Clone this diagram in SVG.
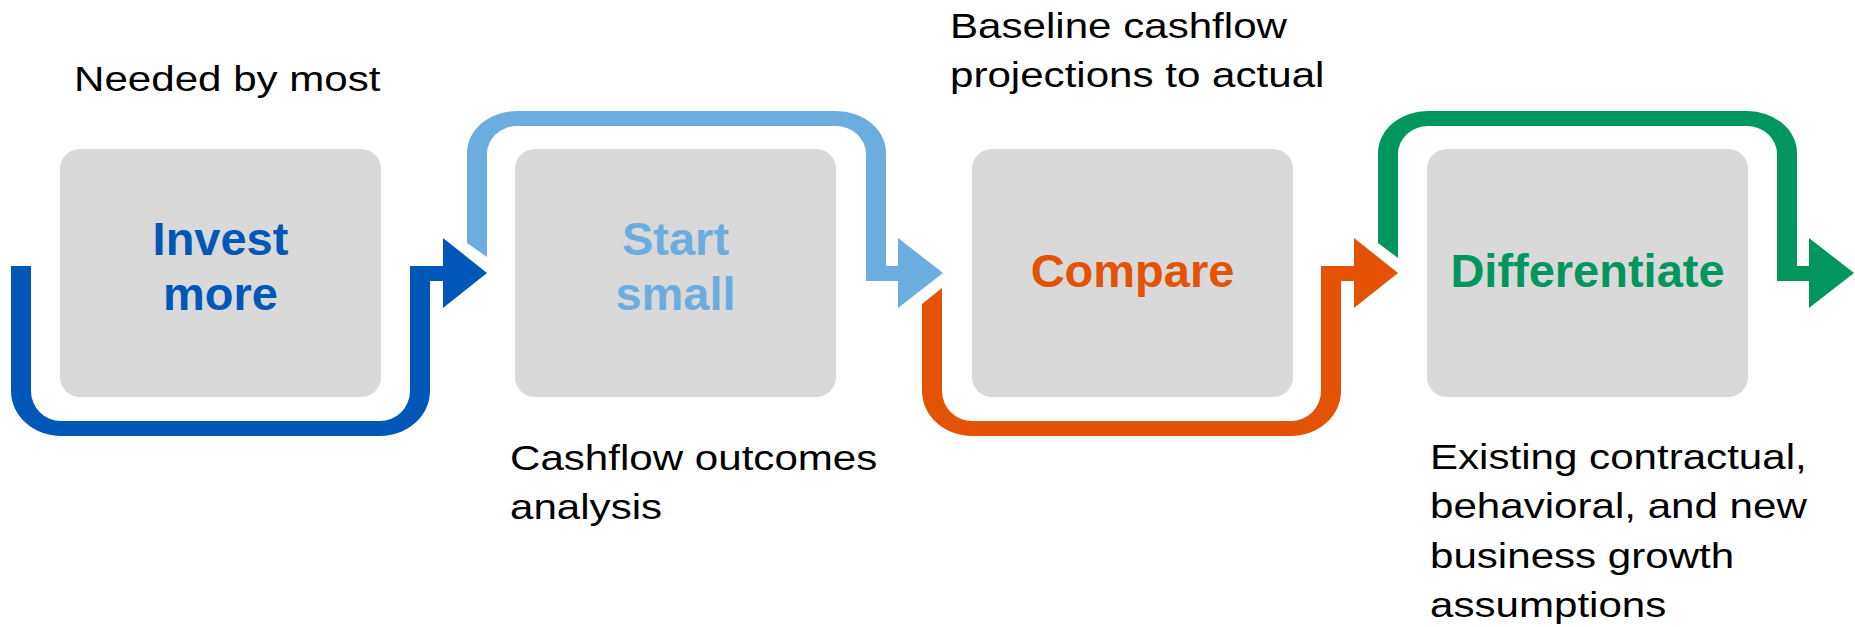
<svg xmlns="http://www.w3.org/2000/svg" width="1855" height="627" viewBox="0 0 1855 627">
<style>
.box{fill:#D9D9D9}
.lbl{font-family:"Liberation Sans",Arial,sans-serif;font-weight:bold;font-size:47px;text-anchor:middle}
.note{font-family:"Liberation Sans",Arial,sans-serif;font-size:36px;fill:#000}
.c1{fill:#0057B8}.c2{fill:#6CADDF}.c3{fill:#E35205}.c4{fill:#00965E}
</style>
<rect width="1855" height="627" fill="#FFFFFF"/>
<g id="connectors">
<path class="c1" d="M11 266 L31 266 L31 391 A30 30 0 0 0 61 421 L380 421 A30 30 0 0 0 410 391 L410 266 L443 266 L443 238 L487 273 L443 308 L443 281 L430 281 L430 391 A50 45 0 0 1 380 436 L61 436 A50 45 0 0 1 11 391 Z"/>
<path class="c2" d="M467 243 L467 153 A50 42 0 0 1 517 111 L836 111 A50 42 0 0 1 886 153 L886 266 L898 266 L898 238 L943 273 L898 308 L898 281 L866 281 L866 154 A30 28 0 0 0 836 126 L517 126 A30 28 0 0 0 487 154 L487 257 Z"/>
<path class="c3" d="M922 304 L942 288 L942 391 A30 30 0 0 0 972 421 L1291 421 A30 30 0 0 0 1321 391 L1321 266 L1354 266 L1354 238 L1398 273 L1354 308 L1354 281 L1341 281 L1341 391 A50 45 0 0 1 1291 436 L972 436 A50 45 0 0 1 922 391 Z"/>
<path class="c4" d="M1378 243 L1378 153 A50 42 0 0 1 1428 111 L1747 111 A50 42 0 0 1 1797 153 L1797 266 L1809 266 L1809 238 L1854 273 L1809 308 L1809 281 L1777 281 L1777 154 A30 28 0 0 0 1747 126 L1428 126 A30 28 0 0 0 1398 154 L1398 258 Z"/>
</g>
<g id="node-invest">
<rect class="box" x="60" y="149" width="321" height="248" rx="20"/>
<text class="lbl c1" x="220.5" y="255">Invest<tspan x="220.5" y="310">more</tspan></text>
<text class="note" transform="translate(74,91) scale(1.17,1)">Needed by most</text>
</g>
<g id="node-start">
<rect class="box" x="515" y="149" width="321" height="248" rx="20"/>
<text class="lbl c2" x="675.5" y="255">Start<tspan x="675.5" y="310">small</tspan></text>
<text class="note" transform="translate(510,470) scale(1.17,1)">Cashflow outcomes<tspan x="0" y="49">analysis</tspan></text>
</g>
<g id="node-compare">
<rect class="box" x="972" y="149" width="321" height="248" rx="20"/>
<text class="lbl c3" x="1132.5" y="287">Compare</text>
<text class="note" transform="translate(950,38) scale(1.17,1)">Baseline cashflow<tspan x="0" y="49">projections to actual</tspan></text>
</g>
<g id="node-differentiate">
<rect class="box" x="1427" y="149" width="321" height="248" rx="20"/>
<text class="lbl c4" x="1587.5" y="287">Differentiate</text>
<text class="note" transform="translate(1430,469) scale(1.17,1)">Existing contractual,<tspan x="0" y="49.5">behavioral, and new</tspan><tspan x="0" y="99">business growth</tspan><tspan x="0" y="148.5">assumptions</tspan></text>
</g>
</svg>
